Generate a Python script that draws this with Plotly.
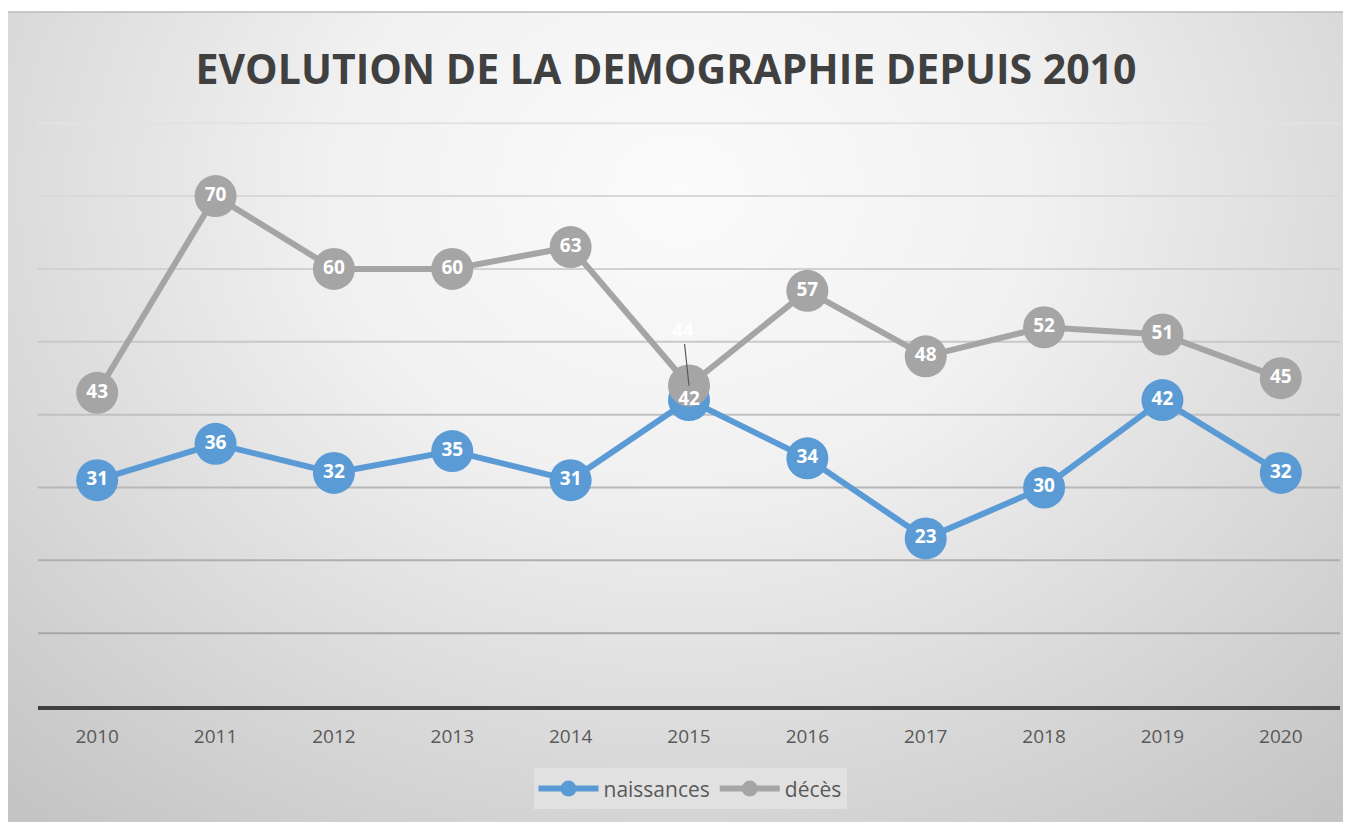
import plotly.graph_objects as go
import urllib.parse

years = ["2010", "2011", "2012", "2013", "2014", "2015", "2016", "2017", "2018", "2019", "2020"]
naissances = [31, 36, 32, 35, 31, 42, 34, 23, 30, 42, 32]
deces = [43, 70, 60, 60, 63, 44, 57, 48, 52, 51, 45]
grid_levels = [10, 20, 30, 40, 50, 60, 70, 80]

BLUE = "#5b9bd5"
GRAY = "#a5a5a5"
FONT = "Open Sans"

OFF = 8  # page body margin
W, H = 1351 - OFF, 822 - OFF
Y_TOP = 81
ml = 38 - OFF
mr = 11
axis_y = 706 - OFF
mb = H - axis_y
scale = (706 - 123) / 80.0
mt = axis_y - Y_TOP * scale
pw, ph = W - ml - mr, H - mt - mb

svg = (
    '<svg xmlns="http://www.w3.org/2000/svg" width="1343" height="811" preserveAspectRatio="none" viewBox="0 0 1343 811">'
    '<defs><radialGradient id="g" cx="0.5" cy="0.22" r="0.75" gradientTransform="translate(0.5,0.22) scale(1,1.35) translate(-0.5,-0.22)">'
    '<stop offset="0" stop-color="#fbfbfb"/><stop offset="0.35" stop-color="#f1f1f1"/>'
    '<stop offset="1" stop-color="#c4c4c4"/></radialGradient></defs>'
    '<rect width="1343" height="811" fill="url(#g)"/>'
    '<line x1="0" y1="0.5" x2="1343" y2="0.5" stroke="#bdbdbd" stroke-width="2"/>'
    '</svg>'
)
src = "data:image/svg+xml;charset=utf-8," + urllib.parse.quote(svg)

def px_x(px):  # screen px -> paper x
    return (px - OFF - ml) / pw

def px_y(py):  # screen px -> paper y
    return (H - mb - (py - OFF)) / ph

fig = go.Figure()

# gridlines, lighter toward the top like the reference
shapes = []
for i, lv in enumerate(grid_levels):
    t = i / (len(grid_levels) - 1)
    c = int(round(0xa6 + t * (0xe2 - 0xa6)))
    shapes.append(dict(type="line", xref="paper", yref="y", x0=0, x1=1, y0=lv, y1=lv,
                       line=dict(color=f"rgb({c},{c},{c})", width=2), layer="below"))

fig.add_trace(go.Scatter(
    x=years, y=naissances, name="naissances", mode="lines+markers",
    line=dict(color=BLUE, width=6),
    marker=dict(color=BLUE, size=42),
))
fig.add_trace(go.Scatter(
    x=years, y=deces, name="décès", mode="lines+markers",
    line=dict(color=GRAY, width=6),
    marker=dict(color=GRAY, size=42),
))

label_font = dict(family=FONT, size=19, color="white", weight="bold")
fig.add_trace(go.Scatter(
    x=years, y=naissances, mode="text", showlegend=False, hoverinfo="skip",
    text=[str(v) for v in naissances], textposition="middle center",
    textfont=label_font,
))
deces_text = [str(v) if i != 5 else "" for i, v in enumerate(deces)]
fig.add_trace(go.Scatter(
    x=years, y=deces, mode="text", showlegend=False, hoverinfo="skip",
    text=deces_text, textposition="middle center",
    textfont=label_font,
))

# 2015 décès label placed above with leader line
fig.add_annotation(
    xref="x", yref="y",
    x=5, y=deces[5], text="<b>44</b>", showarrow=True,
    ax=-6, ay=-56, arrowhead=0, arrowwidth=1.2, arrowcolor="#595959",
    standoff=0,
    font=dict(family=FONT, size=19, color="white"),
)

fig.update_layout(
    width=W, height=H,
    margin=dict(l=ml, r=mr, t=mt, b=mb),
    paper_bgcolor="white",
    plot_bgcolor="rgba(0,0,0,0)",
    shapes=shapes,
    images=[dict(source=src, xref="paper", yref="paper", x=px_x(8), y=px_y(11),
                 sizex=px_x(1351) - px_x(8), sizey=px_y(11) - px_y(822), sizing="stretch",
                 xanchor="left", yanchor="top", layer="below")],
    title=dict(text="<b>EVOLUTION DE LA DEMOGRAPHIE DEPUIS 2010</b>",
               x=(666 - OFF) / W, xanchor="center", y=1 - (70 - OFF) / H, yanchor="middle",
               font=dict(family=FONT, size=41, color="#404040")),
    xaxis=dict(type="category", range=[-0.5, 10.5], showgrid=False,
               showline=True, linecolor="#404040", linewidth=4,
               ticks="outside", ticklen=10, tickcolor="rgba(0,0,0,0)",
               tickfont=dict(family=FONT, size=19, color="#595959"),
               zeroline=False),
    yaxis=dict(range=[0, Y_TOP], dtick=10, showticklabels=False,
               showgrid=False, zeroline=False, showline=False),
    legend=dict(orientation="h", x=px_x(690), xanchor="center",
                y=px_y(789), yanchor="middle",
                bgcolor="rgba(226,226,226,0.9)",
                font=dict(family=FONT, size=21, color="#595959"),
                itemwidth=60, tracegroupgap=0),
    showlegend=True,
)

fig.write_html("out.html")
